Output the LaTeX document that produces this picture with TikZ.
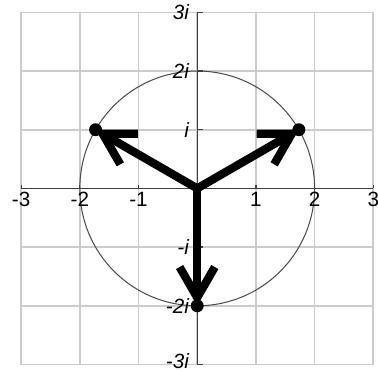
\documentclass[tikz,border=0pt]{standalone}
\usepackage{fontspec}
\setmainfont{Liberation Sans}
\usetikzlibrary{arrows.meta}

\tikzset{
  axisline/.style={line width=0.6pt, black!75},
  vec/.style={line width=4pt, line cap=round, line join=round,
    -{Straight Barb[angle=60:0.6cm]}},
  xlab/.style={below, inner sep=1pt, font=\fontsize{10}{11}\selectfont},
  ylab/.style={left, inner sep=1pt, font=\fontsize{10}{11}\selectfont\itshape},
}

\begin{document}
\begin{tikzpicture}

\useasboundingbox (-3.36,-3.11) rectangle (3.08,3.21);

\draw[line width=0.8pt, black!20] (-3,-3) grid (3,3);

\draw[line width=0.5pt, black!70] (0,0) circle(2);

% axes and ticks
\draw[axisline] (-3,0) -- (3,0);
\draw[axisline] (0,-3) -- (0,3);
\draw[axisline] (-3,0) -- (-3,0.06) (-2,0) -- (-2,0.06) (-1,0) -- (-1,0.06)
  (1,0) -- (1,0.06) (2,0) -- (2,0.06) (3,0) -- (3,0.06);
\draw[axisline] (0,-3) -- (0.09,-3) (0,-2) -- (0.09,-2) (0,-1) -- (0.09,-1)
  (0,1) -- (0.09,1) (0,2) -- (0.09,2) (0,3) -- (0.09,3);

\node[xlab] (xm3) at (-3,-0.02) {-3};
\node[xlab] (xm2) at (-2,-0.02) {-2};
\node[xlab] (xm1) at (-1,-0.02) {-1};
\node[xlab] (x1) at (1,-0.02) {1};
\node[xlab] (x2) at (2,-0.02) {2};
\node[xlab] (x3) at (3,-0.02) {3};

\node[ylab] (y3) at (-0.1,3) {3i};
\node[ylab] (y2) at (-0.1,2) {2i};
\node[ylab] (y1) at (-0.1,1) {i};
\node[ylab] (ym1) at (-0.1,-1) {-i};
\node[ylab] (ym2) at (-0.1,-2) {-2i};
\node[ylab] (ym3) at (-0.1,-2.94) {-3i};

% cube roots of -8i
\coordinate (O) at (0,0);
\coordinate (A) at (1.732,1);
\coordinate (B) at (-1.732,1);
\coordinate (C) at (0,-2);

\draw[vec] (O) -- (A);
\draw[vec] (O) -- (B);
\draw[vec] (O) -- (C);

\fill (A) circle(0.11);
\fill (B) circle(0.11);
\fill (C) circle(0.11);

\end{tikzpicture}
\end{document}
